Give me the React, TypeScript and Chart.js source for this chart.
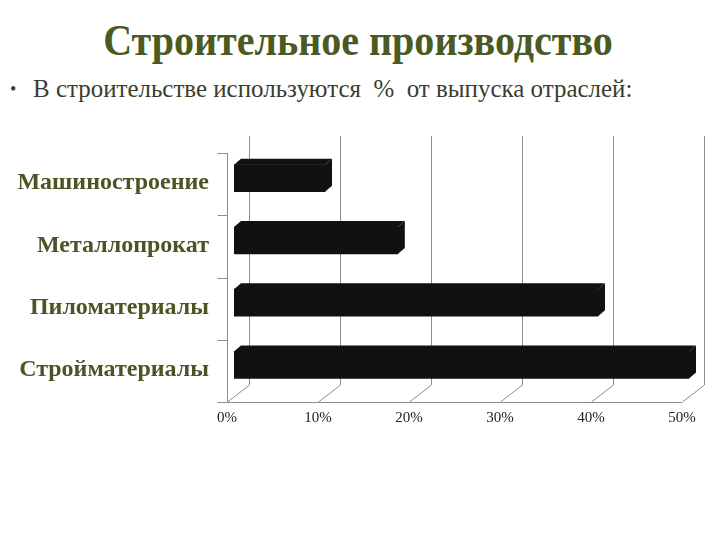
import React, { useEffect, useRef } from "react";
import { Chart, registerables } from "chart.js";

Chart.register(...registerables);

const titleText = "Строительное производство";
const bulletText = "В строительстве используются  %  от выпуска отраслей:";
const categories = ["Машиностроение", "Металлопрокат", "Пиломатериалы", "Стройматериалы"];
const values = [10, 18, 40, 50];
const tickStep = 10;
const axisMin = 0;
const axisMax = 50;

// 3D offsets (pixels) relative to the bar plane
const FRONT = { dx: -7, dy: 6 };
const BACK = { dx: 15, dy: -11 };
const BAR_DEPTH = { dx: 7, dy: -6 };

const wall3d = {
  id: "wall3d",
  beforeDatasetsDraw(chart: any) {
    const { ctx, chartArea } = chart;
    const xs = chart.scales.x;
    ctx.save();
    ctx.strokeStyle = "#8c8c8c";
    ctx.lineWidth = 1;
    const top = chartArea.top;
    const bottom = chartArea.bottom;
    const n = categories.length;
    for (let v = axisMin; v <= axisMax; v += tickStep) {
      const px = Math.round(xs.getPixelForValue(v)) + 0.5;
      ctx.beginPath();
      ctx.moveTo(px + BACK.dx, top + BACK.dy);
      ctx.lineTo(px + BACK.dx, bottom + BACK.dy);
      ctx.stroke();
      ctx.beginPath();
      ctx.moveTo(px + FRONT.dx, bottom + FRONT.dy);
      ctx.lineTo(px + BACK.dx, bottom + BACK.dy);
      ctx.stroke();
    }
    const x0 = Math.round(xs.getPixelForValue(axisMin)) + 0.5 + FRONT.dx;
    const x1 = Math.round(xs.getPixelForValue(axisMax)) + 0.5 + FRONT.dx;
    const yf = Math.round(bottom) + 0.5 + FRONT.dy;
    ctx.beginPath();
    ctx.moveTo(x0, yf);
    ctx.lineTo(x1, yf);
    ctx.stroke();
    ctx.beginPath();
    ctx.moveTo(x0, top + FRONT.dy);
    ctx.lineTo(x0, yf);
    ctx.stroke();
    const band = (bottom - top) / n;
    for (let i = 0; i <= n; i++) {
      const y = Math.round(top + band * i + FRONT.dy) + 0.5;
      ctx.beginPath();
      ctx.moveTo(x0 - 10, y);
      ctx.lineTo(x0, y);
      ctx.stroke();
    }
    ctx.restore();
  },
  afterDatasetsDraw(chart: any) {
    const { ctx } = chart;
    const meta = chart.getDatasetMeta(0);
    ctx.save();
    ctx.fillStyle = "#111111";
    meta.data.forEach((bar: any) => {
      const { x, y, base, height } = bar.getProps(["x", "y", "base", "height"], true);
      const t = y - height / 2;
      const b = y + height / 2;
      ctx.beginPath();
      ctx.moveTo(base, t);
      ctx.lineTo(base + BAR_DEPTH.dx, t + BAR_DEPTH.dy);
      ctx.lineTo(x + BAR_DEPTH.dx, t + BAR_DEPTH.dy);
      ctx.lineTo(x, t);
      ctx.closePath();
      ctx.fill();
      ctx.beginPath();
      ctx.moveTo(x, t);
      ctx.lineTo(x + BAR_DEPTH.dx, t + BAR_DEPTH.dy);
      ctx.lineTo(x + BAR_DEPTH.dx, b + BAR_DEPTH.dy);
      ctx.lineTo(x, b);
      ctx.closePath();
      ctx.fill();
    });
    ctx.restore();
  },
};

export default function App() {
  const ref = useRef<HTMLCanvasElement | null>(null);
  useEffect(() => {
    if (!ref.current) return;
    const chart = new Chart(ref.current, {
      type: "bar",
      data: {
        labels: categories,
        datasets: [
          {
            data: values,
            backgroundColor: "#111111",
            borderWidth: 0,
            barThickness: 27,
          },
        ],
      },
      options: {
        indexAxis: "y",
        responsive: false,
        animation: false,
        devicePixelRatio: 1,
        layout: { padding: { top: 147, right: 31, bottom: 0, left: 0 } },
        plugins: { legend: { display: false }, tooltip: { enabled: false }, title: { display: false } },
        scales: {
          x: {
            min: axisMin,
            max: axisMax,
            grid: { display: false, drawTicks: false },
            border: { display: false },
            ticks: {
              stepSize: tickStep,
              padding: 13,
              labelOffset: -7,
              color: "#222222",
              font: { family: "'Liberation Serif', serif", size: 15 },
              callback: (v: any) => `${v}%`,
              maxRotation: 0,
            },
            afterFit: (s: any) => {
              s.height = 144;
            },
          },
          y: {
            grid: { display: false, drawTicks: false },
            border: { display: false },
            ticks: {
              padding: 25,
              labelOffset: 5,
              color: "#4a5424",
              font: { family: "'Liberation Serif', serif", size: 24, weight: "bold" },
            },
            afterFit: (s: any) => {
              s.width = 234;
            },
          },
        },
      },
      plugins: [wall3d],
    });
    return () => chart.destroy();
  }, []);

  return (
    <div style={{ position: "fixed", left: 0, top: 0, width: 720, height: 540, background: "#fff", overflow: "hidden" }}>
      <div
        style={{
          position: "absolute",
          left: 0,
          width: 716,
          top: 19,
          textAlign: "center",
          fontFamily: "'Liberation Serif', serif",
          fontWeight: "bold",
          fontSize: 44,
          lineHeight: 1,
          color: "#4a5a22",
          whiteSpace: "nowrap",
          transform: "scaleX(0.91)",
          transformOrigin: "358px 0",
        }}
      >
        {titleText}
      </div>
      <div
        style={{
          position: "absolute",
          left: 10,
          top: 76,
          fontFamily: "'Liberation Serif', serif",
          fontSize: 26,
          lineHeight: 1,
          color: "#3a3d2c",
          whiteSpace: "pre",
        }}
      >
        <span style={{ position: "absolute", left: 0, fontSize: 18, top: 4 }}>•</span>
        <span style={{ position: "absolute", left: 23, transform: "scaleX(0.96)", transformOrigin: "0 0" }}>{bulletText}</span>
      </div>
      <canvas ref={ref} width={720} height={540} style={{ position: "absolute", left: 0, top: 0 }} />
    </div>
  );
}
